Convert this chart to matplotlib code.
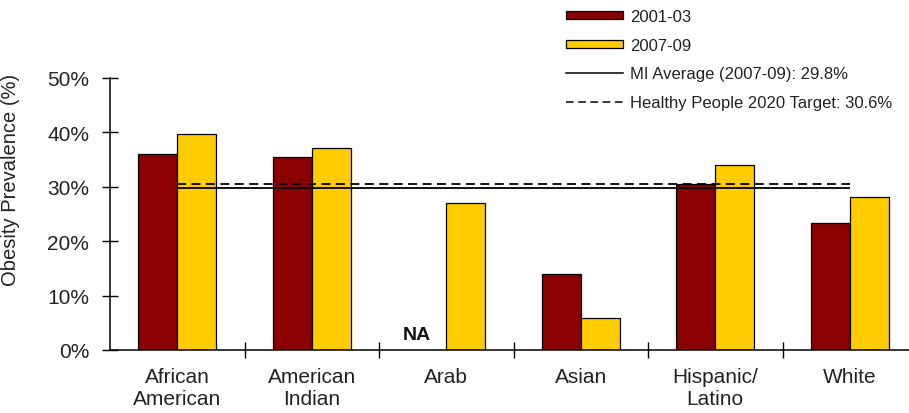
import numpy as np
import matplotlib
matplotlib.use("Agg")
import matplotlib.pyplot as plt
from matplotlib.patches import Patch
from matplotlib.lines import Line2D

categories = ["African\nAmerican", "American\nIndian", "Arab", "Asian",
              "Hispanic/\nLatino", "White"]
prev_2001 = [36.0, 35.5, np.nan, 14.0, 30.5, 23.3]
prev_2007 = [39.7, 37.2, 27.1, 5.8, 34.0, 28.1]
mi_average = 29.8
hp2020_target = 30.6
yticks = [0, 10, 20, 30, 40, 50]

plt.rcParams['font.family'] = ['Liberation Sans', 'DejaVu Sans']

fig = plt.figure(figsize=(9.09, 4.14), dpi=100)
ax = fig.add_axes([110 / 909, 1 - 351 / 414, 807 / 909, 272 / 414])

x = np.arange(len(categories))
w = 0.29
ax.bar(x - w / 2, prev_2001, w, color="#8B0000", edgecolor="black", linewidth=0.9,
       label="2001-03")
ax.bar(x + w / 2, prev_2007, w, color="#FFCC00", edgecolor="black", linewidth=0.9,
       label="2007-09")

# reference lines span from first to last category centre
ax.hlines(mi_average, x[0], x[-1], colors="black", linewidth=1.3)
ax.hlines(hp2020_target, x[0], x[-1], colors="black", linewidth=1.3,
          linestyles=(0, (5, 3)))

# missing value for Arab 2001-03
ax.text(x[2] - 0.22, 1.2, "NA", ha="center", va="bottom", fontsize=14,
        fontweight="bold", color="#111111")

ax.set_xlim(-0.5, len(categories) - 0.5)
ax.set_ylim(0, 50)
ax.set_yticks(yticks)
ax.set_yticklabels([f"{t}%" for t in yticks], fontsize=15, color="#222222")
ax.tick_params(axis="y", direction="inout", length=12, width=1, pad=9)

ax.set_xticks(x)
ax.set_xticklabels(categories, fontsize=15, color="#222222", linespacing=1.2)
ax.tick_params(axis="x", which="major", length=0, pad=12)
ax.set_xticks(x[:-1] + 0.5, minor=True)
ax.tick_params(axis="x", which="minor", direction="inout", length=12, width=1)

ax.set_ylabel("Obesity Prevalence (%)", fontsize=14.5, color="#222222")
ax.yaxis.set_label_coords(-0.111, 0.63)

for s in ["top", "right"]:
    ax.spines[s].set_visible(False)
ax.spines["left"].set_linewidth(1.1)
ax.spines["bottom"].set_linewidth(1.1)

handles = [
    Patch(facecolor="#8B0000", edgecolor="black", linewidth=0.9),
    Patch(facecolor="#FFCC00", edgecolor="black", linewidth=0.9),
    Line2D([], [], color="black", linewidth=1.1),
    Line2D([], [], color="black", linewidth=1.1, linestyle=(0, (5, 3))),
]
labels = ["2001-03", "2007-09", "MI Average (2007-09): 29.8%",
          "Healthy People 2020 Target: 30.6%"]
fig.legend(handles, labels, loc="upper left", bbox_to_anchor=(556 / 909, 1.0),
           frameon=False, fontsize=12, handlelength=3.4, handleheight=0.4,
           handletextpad=0.45, labelspacing=0.82, borderaxespad=0.2,
           labelcolor="#222222")

fig.savefig("out.png", dpi=100)
